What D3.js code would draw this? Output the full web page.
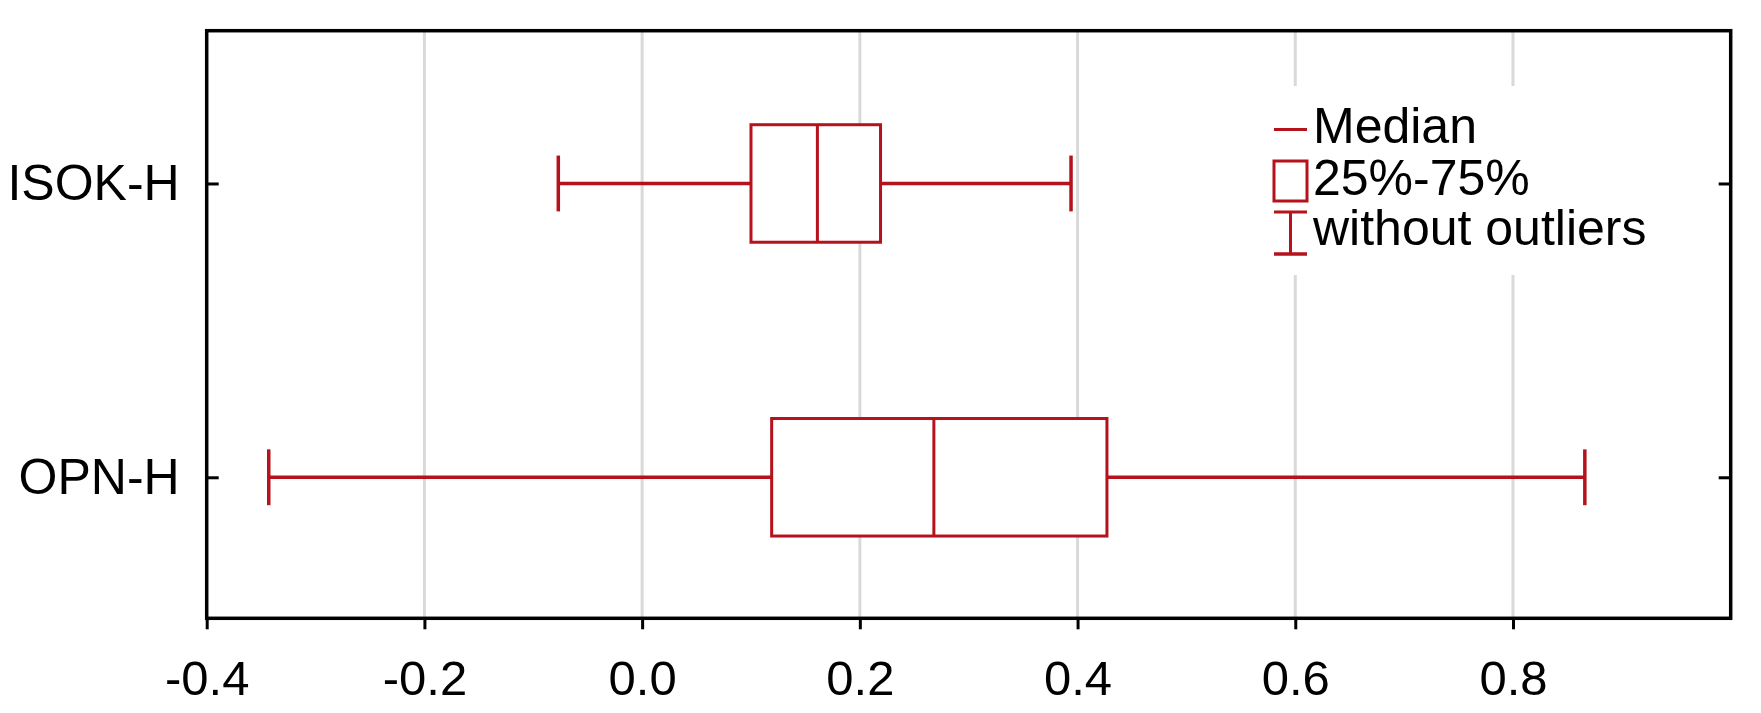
<!DOCTYPE html>
<html>
<head>
<meta charset="utf-8">
<script src="https://cdn.jsdelivr.net/npm/d3@7"></script>
<style>
  html, body { margin: 0; padding: 0; background: #fff; }
  svg { display: block; }
  text { font-family: "Liberation Sans", Arial, Helvetica, sans-serif; fill: #000; }
</style>
</head>
<body>
<svg id="chart" width="1761" height="713"></svg>
<script>
// ---- data ----
const categories   = ["ISOK-H", "OPN-H"];
const whiskerLow   = [-0.077, -0.343];
const q1Values     = [0.100, 0.119];
const medianValues = [0.161, 0.268];
const q3Values     = [0.219, 0.427];
const whiskerHigh  = [0.394, 0.866];
const xTickValues  = [-0.4, -0.2, 0.0, 0.2, 0.4, 0.6, 0.8];
const gridValues   = [-0.2, 0.0, 0.2, 0.4, 0.6, 0.8];
const legendLabels = ["Median", "25%-75%", "without outliers"];

// ---- layout ----
const plotL = 206.7, plotR = 1730.7, plotT = 30.7, plotB = 618.3;
const red = "#b5121b";

const svg = d3.select("#chart");

const x = d3.scaleLinear().domain([-0.4, 1.0]).range([plotL, plotR]);
const y = d3.scalePoint().domain(categories).range([plotT, plotB]).padding(0.5).align(0.52);
const step = y.step();
const boxH = step * 0.4;
const capH = step * 0.19;

// gridlines
svg.append("g").selectAll("line").data(gridValues).join("line")
  .attr("x1", d => x(d)).attr("x2", d => x(d))
  .attr("y1", plotT).attr("y2", plotB)
  .attr("stroke", "#d9d9d9").attr("stroke-width", 3);

// boxes
const rows = categories.map((c, i) => ({
  c, lo: whiskerLow[i], q1: q1Values[i], med: medianValues[i], q3: q3Values[i], hi: whiskerHigh[i]
}));

const g = svg.append("g");
const box = g.selectAll("g.box").data(rows).join("g").attr("class", "box");

// whisker lines
box.append("line")
  .attr("x1", d => x(d.lo)).attr("x2", d => x(d.q1))
  .attr("y1", d => y(d.c)).attr("y2", d => y(d.c))
  .attr("stroke", red).attr("stroke-width", 3.5);
box.append("line")
  .attr("x1", d => x(d.q3)).attr("x2", d => x(d.hi))
  .attr("y1", d => y(d.c)).attr("y2", d => y(d.c))
  .attr("stroke", red).attr("stroke-width", 3.5);
// caps
box.append("line")
  .attr("x1", d => x(d.lo)).attr("x2", d => x(d.lo))
  .attr("y1", d => y(d.c) - capH / 2).attr("y2", d => y(d.c) + capH / 2)
  .attr("stroke", red).attr("stroke-width", 3.5);
box.append("line")
  .attr("x1", d => x(d.hi)).attr("x2", d => x(d.hi))
  .attr("y1", d => y(d.c) - capH / 2).attr("y2", d => y(d.c) + capH / 2)
  .attr("stroke", red).attr("stroke-width", 3.5);
// box
box.append("rect")
  .attr("x", d => x(d.q1)).attr("width", d => x(d.q3) - x(d.q1))
  .attr("y", d => y(d.c) - boxH / 2).attr("height", boxH)
  .attr("fill", "#fff").attr("stroke", red).attr("stroke-width", 3);
// median
box.append("line")
  .attr("x1", d => x(d.med)).attr("x2", d => x(d.med))
  .attr("y1", d => y(d.c) - boxH / 2).attr("y2", d => y(d.c) + boxH / 2)
  .attr("stroke", red).attr("stroke-width", 3);

// axes
const fmt = d => d.toFixed(1);
const xAxis = svg.append("g").attr("transform", `translate(0,${plotB})`)
  .call(d3.axisBottom(x).tickValues(xTickValues).tickFormat(fmt).tickSize(11).tickPadding(31));
xAxis.select(".domain").remove();
xAxis.selectAll(".tick line").attr("stroke", "#000").attr("stroke-width", 3);
xAxis.selectAll(".tick text").attr("font-size", 49).attr("fill", "#000")
  .style("font-family", "'Liberation Sans', Arial, sans-serif");

const yAxis = svg.append("g").attr("transform", `translate(${plotL},0)`)
  .call(d3.axisLeft(y).tickSize(-12).tickPadding(27));
yAxis.select(".domain").remove();
yAxis.selectAll(".tick line").attr("stroke", "#000").attr("stroke-width", 3);
yAxis.selectAll(".tick text").attr("font-size", 50).attr("fill", "#000")
  .style("font-family", "'Liberation Sans', Arial, sans-serif");

const yAxisR = svg.append("g").attr("transform", `translate(${plotR},0)`)
  .call(d3.axisRight(y).tickSize(-12).tickFormat(""));
yAxisR.select(".domain").remove();
yAxisR.selectAll(".tick line").attr("stroke", "#000").attr("stroke-width", 3);

// frame
svg.append("rect")
  .attr("x", plotL).attr("y", plotT)
  .attr("width", plotR - plotL).attr("height", plotB - plotT)
  .attr("fill", "none").attr("stroke", "#000").attr("stroke-width", 3.5);

// legend
const lg = svg.append("g");
lg.append("rect").attr("x", 1262).attr("y", 86).attr("width", 430).attr("height", 189).attr("fill", "#fff");
// median symbol
lg.append("line").attr("x1", 1274).attr("x2", 1307).attr("y1", 129.6).attr("y2", 129.6)
  .attr("stroke", red).attr("stroke-width", 3);
// box symbol
lg.append("rect").attr("x", 1274).attr("y", 161).attr("width", 33).attr("height", 40)
  .attr("fill", "#fff").attr("stroke", red).attr("stroke-width", 3);
// whisker symbol
lg.append("line").attr("x1", 1274).attr("x2", 1307).attr("y1", 212).attr("y2", 212)
  .attr("stroke", red).attr("stroke-width", 3);
lg.append("line").attr("x1", 1274).attr("x2", 1307).attr("y1", 254).attr("y2", 254)
  .attr("stroke", red).attr("stroke-width", 3.5);
lg.append("line").attr("x1", 1290.5).attr("x2", 1290.5).attr("y1", 212).attr("y2", 254)
  .attr("stroke", red).attr("stroke-width", 3);
const baselines = [143.3, 195, 245];
lg.selectAll("text").data(legendLabels).join("text")
  .attr("x", 1313).attr("y", (d, i) => baselines[i])
  .attr("font-size", 50).text(d => d);
</script>
</body>
</html>
